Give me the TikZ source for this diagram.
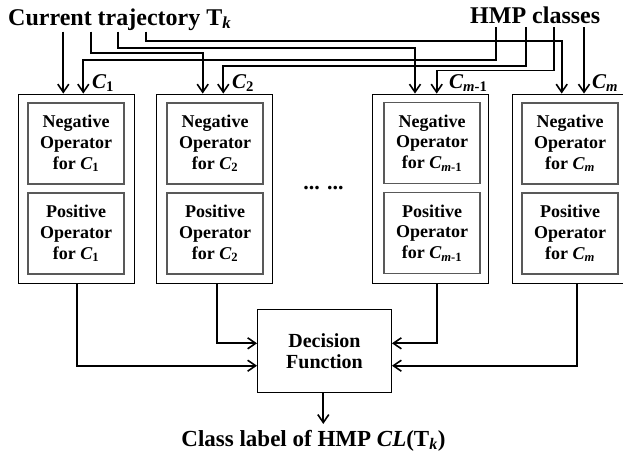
\documentclass[tikz,border=0pt]{standalone}
\usepackage{fontspec}
\setmainfont{Liberation Serif}
\usetikzlibrary{arrows.meta}
\begin{document}
\begin{tikzpicture}[x=1pt,y=-1pt,
  outerbox/.style={draw=black,line width=0.9pt,minimum width=116pt,minimum height=189pt,inner sep=0pt},
  innerbox/.style={draw=black!65,line width=1.3pt,minimum width=96pt,minimum height=81pt,inner sep=0pt,align=center,
     font=\fontsize{18}{20.7}\selectfont\bfseries},
  decbox/.style={draw=black,line width=0.9pt,minimum width=134pt,minimum height=83pt,inner sep=0pt,align=center,
     font=\fontsize{20}{21.5}\selectfont\bfseries},
  conn/.style={line width=1.7pt,-{Straight Barb[length=8pt,width=11pt,line width=1.6pt]}},
  clab/.style={font=\fontsize{21}{23}\selectfont\bfseries\itshape,inner sep=0pt,anchor=base west},
  title/.style={font=\fontsize{24}{26}\selectfont\bfseries,inner sep=0pt,anchor=base west}
]
\useasboundingbox (0,0) rectangle (623,456);
\fill[white] (0,0) rectangle (623,456);

% titles
\node[title] (tr) at (8,25) {Current trajectory T\textsubscript{\textit{k}}};
\node[title] (hmp) at (470,23) {HMP classes};

% outer boxes
\node[outerbox] (b1) at (76,188.5) {};
\node[outerbox] (b2) at (214.5,188.5) {};
\node[outerbox] (b3) at (430.5,188.5) {};
\node[outerbox] (b4) at (570.5,188.5) {};

% inner boxes
\node[innerbox] (n1) at (76,143.5) {Negative\\Operator\\for \textit{C}\textsubscript{1}};
\node[innerbox] (p1) at (76,233.5) {Positive\\Operator\\for \textit{C}\textsubscript{1}};
\node[innerbox] (n2) at (215,143.5) {Negative\\Operator\\for \textit{C}\textsubscript{2}};
\node[innerbox] (p2) at (215,233.5) {Positive\\Operator\\for \textit{C}\textsubscript{2}};
\node[innerbox] (n3) at (432,143) {Negative\\Operator\\for \textit{C}\textsubscript{\textit{m}-1}};
\node[innerbox] (p3) at (432,233) {Positive\\Operator\\for \textit{C}\textsubscript{\textit{m}-1}};
\node[innerbox] (n4) at (570,143.5) {Negative\\Operator\\for \textit{C}\textsubscript{\textit{m}}};
\node[innerbox] (p4) at (570,233.5) {Positive\\Operator\\for \textit{C}\textsubscript{\textit{m}}};

% dots
\node[font=\fontsize{22}{24}\selectfont\bfseries,inner sep=0pt,anchor=base] (dots) at (323.5,189) {... ...};

% class labels
\node[clab] (c1) at (92,88) {C\textsubscript{\upshape 1}};
\node[clab] (c2) at (232,88) {C\textsubscript{\upshape 2}};
\node[clab] (c3) at (449,88) {C\textsubscript{m{\upshape -1}}};
\node[clab] (c4) at (592,88) {C\textsubscript{m}};

% decision
\node[decbox] (dec) at (324.5,351) {Decision\\Function};
\node[font=\fontsize{23}{25}\selectfont\bfseries,inner sep=0pt,anchor=base] (out) at (313.5,446)
  {Class label of HMP \textit{CL}(T\textsubscript{\textit{k}})};

% start coordinates
\coordinate (t1) at (63.3,31.7);
\coordinate (t2) at (90.7,31.7);
\coordinate (t3) at (117.7,31.7);
\coordinate (t4) at (146,31.7);
\coordinate (h1) at (496,27);
\coordinate (h2) at (525.7,27);
\coordinate (h3) at (554.3,27);
\coordinate (h4) at (584,27);

% top connectors
\draw[conn] (t1) -- ([xshift=-12.7pt]b1.north);
\draw[conn] (t2) |- ([xshift=-11.8pt,yshift=40.7pt]b2.north) -- ([xshift=-11.8pt]b2.north);
\draw[conn] (t3) |- ([xshift=-15.5pt,yshift=45.7pt]b3.north) -- ([xshift=-15.5pt]b3.north);
\draw[conn] (t4) |- ([xshift=-8.8pt,yshift=52.3pt]b4.north) -- ([xshift=-8.8pt]b4.north);
\draw[conn] (h1) |- ([xshift=7.3pt,yshift=33.3pt]b1.north) -- ([xshift=7.3pt]b1.north);
\draw[conn] (h2) |- ([xshift=8.8pt,yshift=27.3pt]b2.north) -- ([xshift=8.8pt]b2.north);
\draw[conn] (h3) |- ([xshift=6.2pt,yshift=23pt]b3.north) -- ([xshift=6.2pt]b3.north);
\draw[conn] (h4) -- ([xshift=13.5pt]b4.north);

% bottom connectors
\draw[conn] ([xshift=1.3pt]b1.south) |- ([yshift=-14.7pt]dec.west);
\draw[conn] ([xshift=2.2pt]b2.south) |- ([yshift=7.7pt]dec.west);
\draw[conn] ([xshift=6.5pt]b3.south) |- ([yshift=7.7pt]dec.east);
\draw[conn] ([xshift=6.5pt]b4.south) |- ([yshift=-14.7pt]dec.east);
\draw[conn] ([xshift=-1.2pt]dec.south) -- ([xshift=-1.2pt,yshift=-31pt]dec.south);
\end{tikzpicture}
\end{document}
